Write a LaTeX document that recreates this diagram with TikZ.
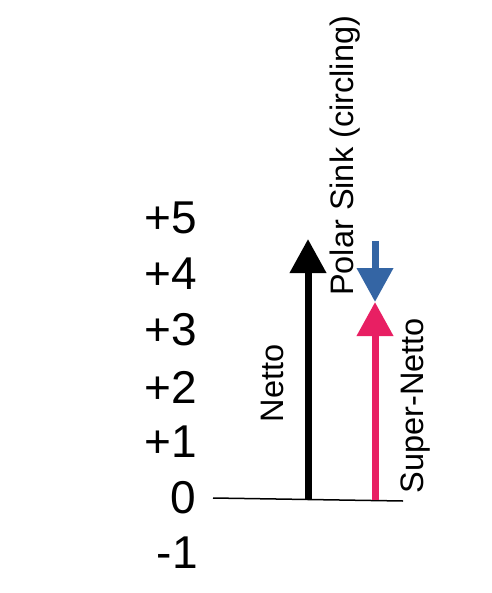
\documentclass[tikz,border=0pt]{standalone}
\usepackage{fontspec}
\setmainfont{Liberation Sans}
\usetikzlibrary{arrows.meta}
\definecolor{sinkblue}{HTML}{3465A4}
\definecolor{superpink}{HTML}{E81F63}
\begin{document}
\begin{tikzpicture}[x=1pt,y=-1pt,
  tick/.style={anchor=east,inner sep=0pt,font=\fontsize{46}{50}\selectfont},
  vlabel/.style={rotate=90,anchor=base west,inner sep=0pt,font=\fontsize{32.5}{36}\selectfont},
  bigarrow/.style={line width=7pt,-{Triangle[width=35pt,length=34pt]}}]
\useasboundingbox (0,0) rectangle (491,593);
\node[tick] (p5) at (197,218) {+5};
\node[tick] (p4) at (197,274) {+4};
\node[tick] (p3) at (197,330) {+3};
\node[tick] (p2) at (197,387) {+2};
\node[tick] (p1) at (197,442) {+1};
\node[tick] (z0) at (196,498) {0};
\node[tick] (m1) at (198,553) {-1};
\coordinate (axl) at (213,498);
\coordinate (axr) at (403,501);
\draw[line width=1.5pt] (axl) -- (axr);
\coordinate (nb) at (308,498.5);
\coordinate (nt) at (308,239);
\draw[bigarrow,black] (nb) -- (nt);
\coordinate (st) at (375,241);
\coordinate (mid) at (375,302);
\coordinate (sb) at (375,499.5);
\draw[bigarrow,sinkblue] (st) -- (mid);
\draw[bigarrow,superpink] (sb) -- (mid);
\node[vlabel] (netto) at (283.5,422.5) {Netto};
\node[vlabel] (polar) at (353.5,296) {Polar Sink (circling)};
\node[vlabel] (super) at (423.5,493.5) {Super-Netto};
\end{tikzpicture}
\end{document}
